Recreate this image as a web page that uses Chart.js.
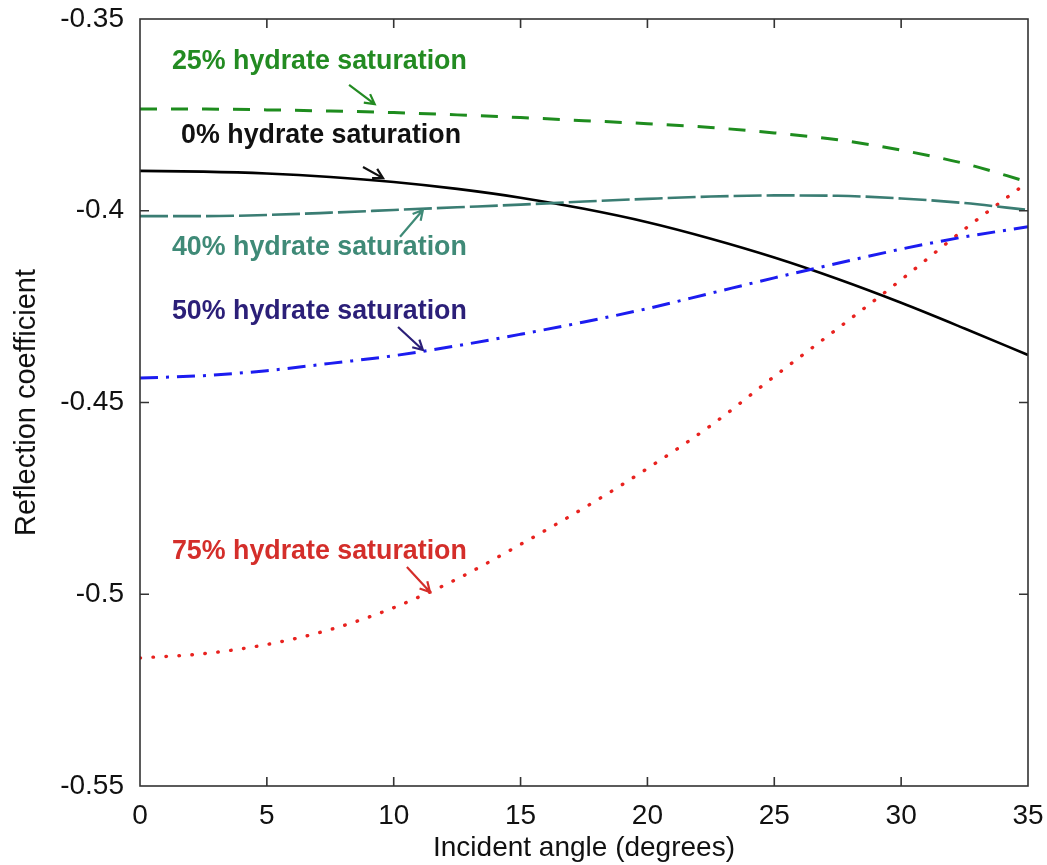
<!DOCTYPE html>
<html><head><meta charset="utf-8">
<script src="https://cdn.jsdelivr.net/npm/chart.js@4.4.1/dist/chart.umd.min.js"></script>
<style>html,body{margin:0;padding:0;background:#fff}</style>
</head><body>
<canvas id="c" width="1047" height="865"></canvas>
<script>
// ---- data ----
const angles = [0, 2.5, 5, 7.5, 10, 12.5, 15, 17.5, 20, 22.5, 25, 27.5, 30, 32.5, 35];
const sat0  = [-0.3896, -0.3898, -0.3903, -0.3912, -0.3925, -0.3943, -0.3966, -0.3995, -0.4030, -0.4073, -0.4122, -0.4178, -0.4240, -0.4307, -0.4376];
const sat25 = [-0.3735, -0.3735, -0.3737, -0.3740, -0.3744, -0.3750, -0.3757, -0.3765, -0.3773, -0.3783, -0.3797, -0.3815, -0.3842, -0.3877, -0.3925];
const sat40 = [-0.4014, -0.4014, -0.4011, -0.4005, -0.3998, -0.3991, -0.3984, -0.3976, -0.3969, -0.3963, -0.3960, -0.3961, -0.3968, -0.3980, -0.3998];
const sat50 = [-0.4436, -0.4430, -0.4417, -0.4398, -0.4378, -0.4352, -0.4322, -0.4290, -0.4255, -0.4215, -0.4175, -0.4137, -0.4100, -0.4068, -0.4042];
const sat75 = [-0.5166, -0.5155, -0.5131, -0.5092, -0.5035, -0.4960, -0.4870, -0.4775, -0.4672, -0.4560, -0.4432, -0.4307, -0.4180, -0.4048, -0.3925];

const xTickValues = [0, 5, 10, 15, 20, 25, 30, 35];
const yTickValues = [-0.35, -0.4, -0.45, -0.5, -0.55];
const yTickLabels = ['-0.35', '-0.4', '-0.45', '-0.5', '-0.55'];

// annotation texts (anchored in data units)
const noteTexts  = ['25% hydrate saturation', '0% hydrate saturation', '40% hydrate saturation', '50% hydrate saturation', '75% hydrate saturation'];
const noteX      = [1.26, 1.62, 1.26, 1.26, 1.26];
const noteY      = [-0.3612, -0.3805, -0.4095, -0.4264, -0.4890];
const arrowTailX = [8.24, 8.79, 10.25, 10.17, 10.52];
const arrowTailY = [-0.3672, -0.3886, -0.4068, -0.4303, -0.4929];
const arrowTipX  = [9.25, 9.58, 11.15, 11.15, 11.43];
const arrowTipY  = [-0.3722, -0.3915, -0.3998, -0.4363, -0.4994];
const noteColors = ['#238b22', '#111111', '#3f8a77', '#2b1f78', '#d42e2a'];

const FONT = "'Liberation Sans', Arial, Helvetica, sans-serif";
const pts = arr => angles.map((a, i) => ({x: a, y: arr[i]}));

const framePlugin = {
  id: 'frame',
  afterDatasetsDraw(chart) {
    const {ctx, chartArea: a, scales: {x, y}} = chart;
    ctx.save();
    ctx.strokeStyle = '#333';
    ctx.lineWidth = 1.6;
    ctx.strokeRect(a.left, a.top, a.right - a.left, a.bottom - a.top);
    const tl = 9;
    ctx.beginPath();
    xTickValues.forEach(v => {
      const px = x.getPixelForValue(v);
      if (px <= a.left + 1 || px >= a.right - 1) return;
      ctx.moveTo(px, a.bottom); ctx.lineTo(px, a.bottom - tl);
      ctx.moveTo(px, a.top); ctx.lineTo(px, a.top + tl);
    });
    yTickValues.forEach(v => {
      const py = y.getPixelForValue(v);
      if (py <= a.top + 1 || py >= a.bottom - 1) return;
      ctx.moveTo(a.left, py); ctx.lineTo(a.left + tl, py);
      ctx.moveTo(a.right, py); ctx.lineTo(a.right - tl, py);
    });
    ctx.stroke();

    // annotations
    ctx.font = 'bold 26.8px ' + FONT;
    ctx.textBaseline = 'middle';
    ctx.textAlign = 'left';
    noteTexts.forEach((t, i) => {
      ctx.fillStyle = noteColors[i];
      ctx.fillText(t, x.getPixelForValue(noteX[i]), y.getPixelForValue(noteY[i]));
      const x0 = x.getPixelForValue(arrowTailX[i]), y0 = y.getPixelForValue(arrowTailY[i]);
      const x1 = x.getPixelForValue(arrowTipX[i]),  y1 = y.getPixelForValue(arrowTipY[i]);
      ctx.strokeStyle = noteColors[i];
      ctx.lineWidth = 2.2;
      ctx.beginPath();
      ctx.moveTo(x0, y0); ctx.lineTo(x1, y1);
      const ang = Math.atan2(y1 - y0, x1 - x0), hl = 11, spread = 0.5;
      ctx.moveTo(x1 - hl * Math.cos(ang - spread), y1 - hl * Math.sin(ang - spread));
      ctx.lineTo(x1, y1);
      ctx.lineTo(x1 - hl * Math.cos(ang + spread), y1 - hl * Math.sin(ang + spread));
      ctx.stroke();
    });
    ctx.restore();
  }
};

new Chart(document.getElementById('c'), {
  type: 'line',
  data: {
    datasets: [
      {label: '25%', data: pts(sat25), borderColor: '#1e8c1e', borderWidth: 3, borderDash: [17, 14]},
      {label: '40%', data: pts(sat40), borderColor: '#3a7d73', borderWidth: 2.6, borderDash: [28, 5]},
      {label: '50%', data: pts(sat50), borderColor: '#1c1cf0', borderWidth: 3, borderDash: [18, 8, 3, 8]},
      {label: '75%', data: pts(sat75), borderColor: '#e8221f', borderWidth: 3.4, borderDash: [0.5, 12.5], borderCapStyle: 'round'},
      {label: '0%',  data: pts(sat0),  borderColor: '#000000', borderWidth: 2.6}
    ]
  },
  options: {
    responsive: false,
    animation: false,
    devicePixelRatio: 1,
    layout: {padding: {top: 19, right: 19, left: 0, bottom: 0}},
    elements: {point: {radius: 0}, line: {tension: 0.4, cubicInterpolationMode: 'monotone', fill: false}},
    plugins: {legend: {display: false}, tooltip: {enabled: false}},
    scales: {
      x: {
        type: 'linear', min: 0, max: 35,
        afterBuildTicks: s => { s.ticks = xTickValues.map(v => ({value: v})); },
        afterFit: s => { s.height = 79; s.paddingLeft = 0; s.paddingRight = 0; },
        grid: {display: false, drawTicks: false},
        border: {display: false},
        ticks: {color: '#111', font: {family: FONT, size: 28}, padding: 13, maxRotation: 0, autoSkip: false},
        title: {display: true, text: 'Incident angle (degrees)', color: '#111', font: {family: FONT, size: 28}, padding: {top: 0, bottom: 0}}
      },
      y: {
        type: 'linear', min: -0.55, max: -0.35,
        afterBuildTicks: s => { s.ticks = yTickValues.map(v => ({value: v})); },
        afterFit: s => { s.width = 140; s.paddingTop = 0; s.paddingBottom = 0; },
        grid: {display: false, drawTicks: false},
        border: {display: false},
        ticks: {color: '#111', font: {family: FONT, size: 28}, padding: 16, autoSkip: false,
          callback: v => yTickLabels[yTickValues.findIndex(t => Math.abs(t - v) < 1e-9)]},
        title: {display: true, text: 'Reflection coefficient', color: '#111', font: {family: FONT, size: 29}, padding: {top: 10, bottom: 0}}
      }
    }
  },
  plugins: [framePlugin]
});
</script>
</body></html>
